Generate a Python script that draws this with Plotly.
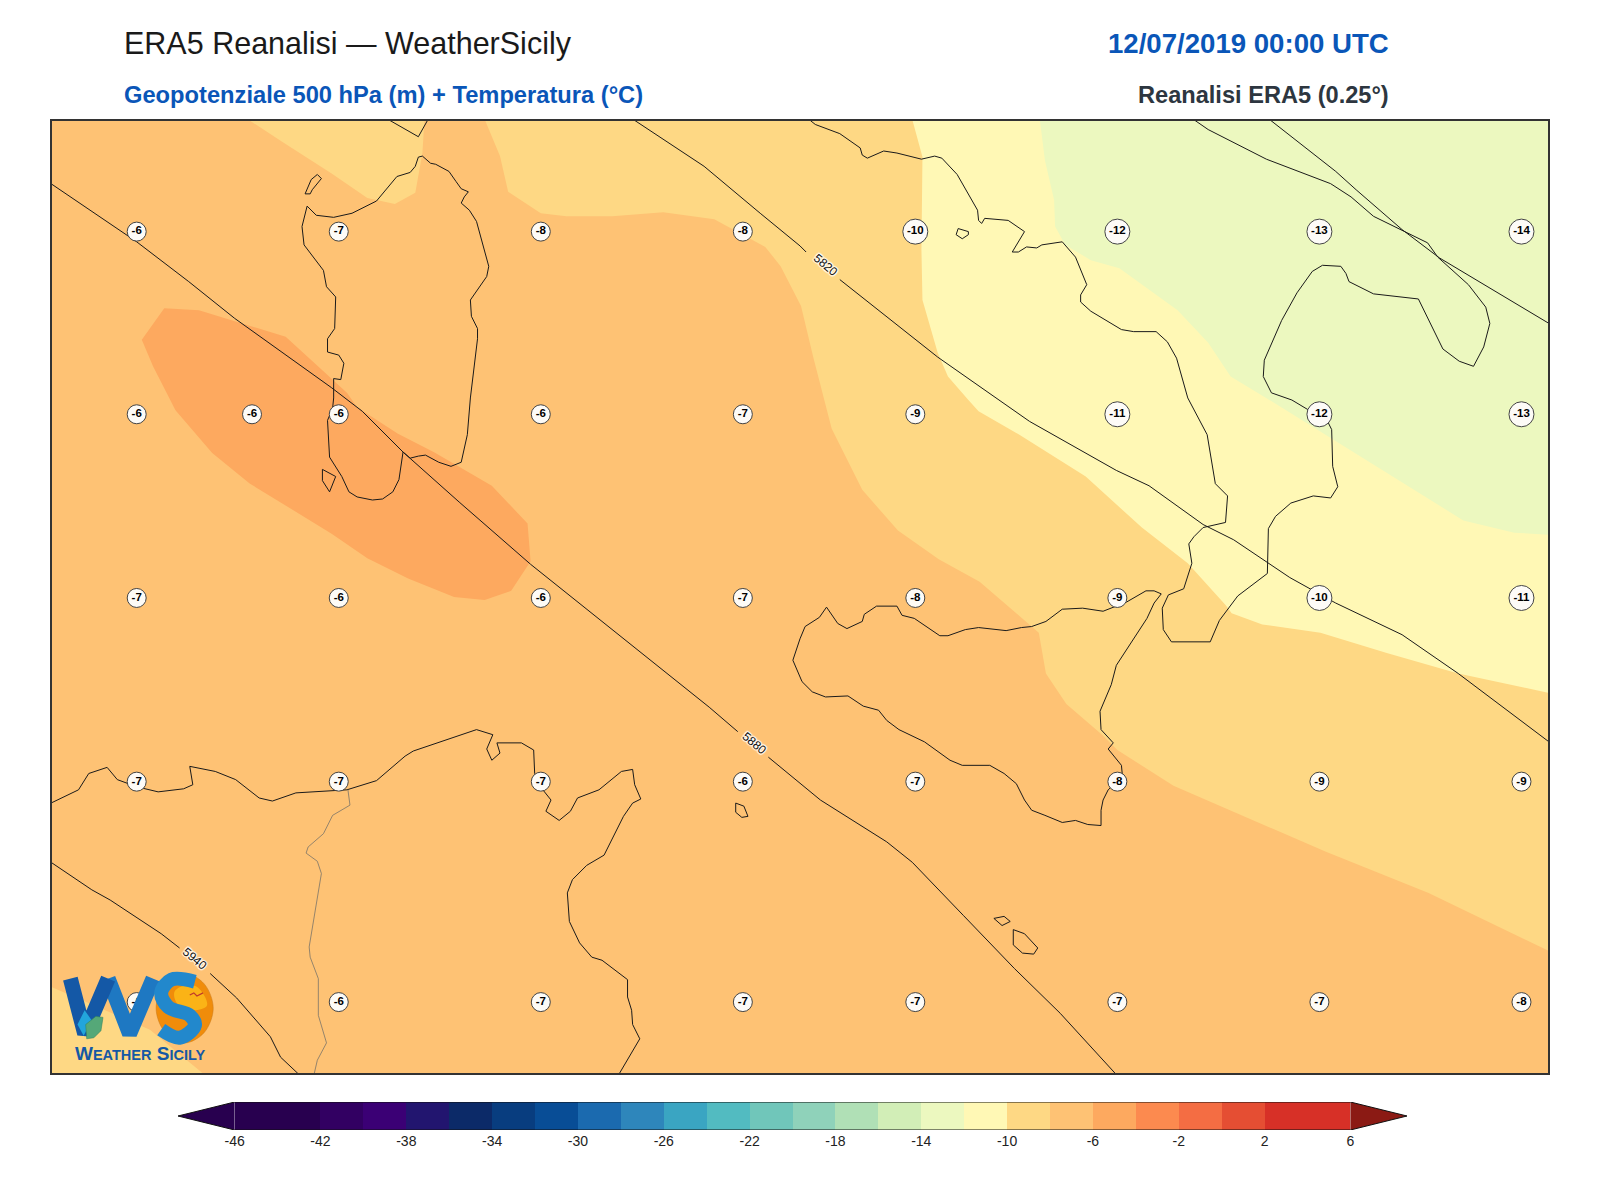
import plotly.graph_objects as go

# map units: x 50..1518 west to east, y 117..1052 north to south
hgt_5820 = [(622, 118), (690, 163), (745, 209), (784, 241), (790, 247), (None, None),
            (823, 274), (919, 350), (979, 392), (1009, 413), (1094, 461), (1126, 476), (1179, 514),
            (1209, 529), (1264, 566), (1309, 591), (1374, 622), (1429, 660), (1518, 727)]
hgt_5880 = [(50, 180), (134, 237), (185, 276), (230, 312), (325, 380), (355, 403), (395, 443), (450, 492),
            (520, 553), (600, 617), (695, 693), (723, 717), (None, None),
            (753, 742), (784, 767), (804, 784), (869, 825), (894, 845), (944, 897), (994, 949), (1039, 993),
            (1093, 1052)]
hgt_5940 = [(50, 845), (90, 872), (108, 882), (158, 915), (176, 929), (None, None),
            (206, 954), (232, 978), (265, 1016), (275, 1036), (292, 1052)]
hgt_5760 = [(1244, 117), (1309, 168), (1329, 186), (1374, 225), (1411, 253), (1518, 317)]
contour_labels = ['5820', '5880', '5940']
contour_label_x = [809, 739, 191]
contour_label_y = [260, 728, 940]

sardinia = [(414, 153), (422, 160), (427, 161), (440, 168), (447, 178), (452, 185), (459, 188), (455, 193),
            (452, 199), (460, 206), (467, 217), (479, 261), (477, 271), (461, 294), (462, 310), (468, 322),
            (468, 332), (461, 390), (458, 426), (452, 453), (442, 457), (430, 453), (417, 446), (410, 447),
            (402, 449), (395, 443), (391, 470), (385, 482), (375, 489), (365, 490), (350, 487), (342, 482),
            (335, 467), (323, 448), (321, 412), (326, 400), (327, 390), (327, 371), (334, 372), (337, 356),
            (332, 348), (321, 345), (321, 332), (328, 322), (329, 291), (320, 281), (317, 265), (298, 240),
            (296, 222), (301, 202), (310, 211), (327, 213), (345, 209), (369, 197), (389, 173), (402, 169),
            (407, 163), (410, 154), (414, 153)]
asinara = [(299, 190), (305, 176), (311, 171), (315, 175), (306, 186), (304, 190), (299, 190)]
san_pietro = [(316, 460), (329, 467), (323, 482), (316, 471), (316, 460)]
corsica = [(382, 118), (410, 134), (419, 118)]
ischia = [(939, 224), (949, 227), (949, 230), (943, 234), (937, 230), (939, 224)]
pantelleria = [(721, 787), (729, 790), (733, 800), (727, 801), (721, 796), (721, 787)]
gozo = [(974, 900), (984, 898), (990, 903), (982, 907), (974, 900)]
malta = [(993, 911), (1004, 915), (1017, 929), (1013, 935), (1002, 934), (993, 926), (993, 911)]
sicily = [(784, 626), (789, 614), (803, 605), (810, 595), (821, 611), (830, 616), (845, 609), (847, 602),
          (859, 594), (879, 594), (884, 603), (896, 606), (921, 623), (929, 623), (946, 617), (959, 615),
          (986, 618), (1001, 615), (1011, 614), (1025, 609), (1041, 597), (1061, 596), (1081, 599), (1089, 596),
          (1104, 590), (1123, 579), (1131, 579), (1138, 582), (1131, 591), (1124, 606), (1094, 652), (1089, 671),
          (1078, 697), (1079, 715), (1091, 728), (1086, 734), (1099, 750), (1100, 761), (1086, 774), (1081, 784),
          (1079, 794), (1079, 809), (1066, 808), (1054, 804), (1041, 806), (1024, 799), (1011, 794), (1004, 784),
          (996, 768), (984, 758), (970, 750), (943, 750), (931, 745), (906, 727), (881, 715), (869, 706),
          (861, 696), (846, 692), (831, 682), (809, 683), (796, 678), (786, 668), (777, 647), (784, 626)]
italy = [(794, 118), (799, 122), (823, 131), (843, 145), (845, 152), (850, 155), (866, 148), (879, 150),
         (903, 156), (916, 153), (923, 155), (938, 171), (958, 206), (959, 216), (962, 219), (965, 214),
         (988, 216), (1004, 227), (992, 247), (998, 247), (1006, 242), (1016, 243), (1021, 240), (1041, 237),
         (1054, 252), (1065, 279), (1059, 289), (1059, 296), (1069, 305), (1099, 323), (1111, 325), (1133, 325),
         (1144, 335), (1153, 351), (1164, 390), (1183, 426), (1191, 474), (1203, 486), (1201, 512), (1179, 517),
         (1170, 526), (1165, 533), (1168, 552), (1160, 577), (1145, 583), (1139, 596), (1140, 617), (1148, 629),
         (1186, 629), (1195, 608), (1213, 584), (1242, 562), (1243, 518), (1250, 506), (1265, 493), (1287, 486),
         (1304, 488), (1311, 477), (1306, 457), (1305, 421), (1301, 413), (1266, 392), (1246, 385), (1238, 369),
         (1239, 353), (1256, 314), (1271, 287), (1286, 266), (1296, 260), (1314, 261), (1319, 268), (1322, 276),
         (1346, 288), (1390, 293), (1414, 342), (1430, 354), (1444, 359), (1454, 340), (1460, 317), (1456, 301),
         (1439, 279), (1409, 252), (1399, 238), (1346, 212), (1324, 193), (1304, 180), (1241, 156), (1184, 127),
         (1171, 118)]
africa = [(50, 787), (77, 774), (87, 758), (105, 752), (115, 764), (134, 771), (155, 776), (180, 773), (189, 769),
          (186, 751), (211, 756), (231, 764), (254, 782), (267, 785), (290, 777), (340, 774), (369, 765), (397, 741),
          (405, 736), (467, 715), (483, 720), (477, 734), (482, 745), (490, 738), (487, 728), (511, 728), (523, 735),
          (524, 758), (532, 774), (540, 784), (535, 795), (548, 804), (559, 795), (566, 782), (587, 774), (609, 756),
          (620, 754), (622, 769), (628, 783), (620, 787), (611, 800), (592, 838), (575, 848), (561, 862), (556, 875),
          (558, 903), (568, 924), (580, 938), (590, 941), (615, 960), (615, 977), (619, 990), (620, 1004), (627, 1018),
          (607, 1052)]
border = [(341, 774), (343, 789), (326, 799), (317, 817), (302, 830), (300, 836), (311, 844), (315, 856), (303, 928),
          (304, 938), (312, 959), (312, 995), (320, 1022), (311, 1039), (308, 1052)]

# filled temperature bands
band_m8 = [(50, 117), (1518, 117), (1518, 1052), (50, 1052)]
band_m10_topleft = [(243, 117), (278, 140), (325, 170), (360, 194), (387, 200), (407, 189), (414, 150), (416, 117)]
band_m10_corner = [(50, 967), (147, 1009), (199, 1052), (50, 1052)]
band_m10_main = [(475, 117), (490, 153), (498, 188), (530, 209), (555, 212), (600, 212), (650, 208), (700, 215),
                 (750, 242), (765, 261), (785, 300), (797, 350), (815, 420), (845, 480), (880, 520), (920, 548),
                 (960, 570), (1000, 605), (1018, 620), (1025, 660), (1045, 690), (1080, 720), (1095, 735),
                 (1150, 770), (1230, 805), (1300, 835), (1400, 875), (1518, 932), (1518, 117)]
band_m12 = [(894, 117), (904, 154), (903, 245), (904, 294), (919, 346), (929, 369), (949, 392), (959, 403), (999, 426),
            (1064, 467), (1119, 517), (1164, 552), (1201, 593), (1207, 601), (1237, 612), (1294, 620), (1359, 640),
            (1429, 660), (1518, 679), (1518, 117)]
band_m14 = [(1019, 117), (1024, 157), (1033, 196), (1034, 222), (1044, 240), (1069, 255), (1097, 263), (1154, 304),
            (1184, 336), (1206, 369), (1244, 392), (1349, 457), (1434, 510), (1484, 522), (1518, 524), (1518, 117)]
band_m6 = [(161, 302), (195, 304), (280, 330), (340, 385), (350, 399), (390, 425), (425, 443), (482, 476), (517, 513),
           (520, 550), (501, 579), (475, 588), (445, 585), (400, 567), (360, 547), (325, 523), (245, 474), (208, 444),
           (172, 402), (150, 359), (139, 333), (161, 302)]

temp_x = [134, 332, 530, 728, 897, 1095, 1293, 1491,
          134, 247, 332, 530, 728, 897, 1095, 1293, 1491,
          134, 332, 530, 728, 897, 1095, 1293, 1491,
          134, 332, 530, 728, 897, 1095, 1293, 1491,
          134, 332, 530, 728, 897, 1095, 1293, 1491]
temp_y = [227] * 8 + [406] * 9 + [586] * 8 + [766] * 8 + [982] * 8
temp_val = [-6, -7, -8, -8, -10, -12, -13, -14,
            -6, -6, -6, -6, -7, -9, -11, -12, -13,
            -7, -6, -6, -7, -8, -9, -10, -11,
            -7, -7, -7, -6, -7, -8, -9, -9,
            -6, -6, -7, -7, -7, -7, -7, -8]

cbar_levels = list(range(-46, 6, 2))
cbar_colors = ['#28004f', '#28004f', '#320062', '#3b0075', '#22156f', '#0c2a68', '#083d7f', '#084d96',
               '#1b6aaf', '#2e86bb', '#3aa5c2', '#52bbc1', '#70c6ba', '#8fd2ba', '#b0e0b6', '#d2eeb7',
               '#ecf8bf', '#fff8b5', '#fed884', '#fec274', '#fda95f', '#fc8a4f', '#f46d43', '#e54e33',
               '#d73027', '#d73027']
cbar_ticks = list(range(-46, 7, 4))
cbar_ext = 2.64

# logo strokes
logo_sun = [(181, 954), (200, 964), (209, 988), (200, 1012), (181, 1022), (162, 1012), (153, 988), (162, 964), (181, 954)]
logo_sun_inner = [(171, 972), (180, 966), (193, 967), (203, 985), (190, 990), (174, 984), (171, 972)]
logo_w_left = [(69, 959), (83, 1013), (106, 959)]
logo_w_right = [(106, 959), (127, 1013), (150, 959)]
logo_s = [(191, 962), (168, 960), (158, 973), (165, 987), (186, 995), (191, 1005), (176, 1017), (158, 1009)]
logo_leaf = [(85, 1018), (84, 1004), (94, 996), (101, 997), (99, 1010), (92, 1017), (85, 1018)]
logo_drop = [(82, 1015), (76, 1004), (83, 990), (90, 1000), (82, 1015)]
logo_bird = [(186, 975), (190, 973), (193, 976), (199, 973)]


def xs(pts):
    return [p[0] for p in pts]


def ys(pts):
    return [p[1] for p in pts]


fig = go.Figure()


def add_band(pts, color):
    fig.add_trace(go.Scatter(x=xs(pts), y=ys(pts), mode='lines', fill='toself', fillcolor=color,
                             line=dict(width=0, color=color), hoverinfo='skip', showlegend=False))


def add_line(pts, color='#1a1a1a', width=1.0):
    fig.add_trace(go.Scatter(x=xs(pts), y=ys(pts), mode='lines', line=dict(color=color, width=width),
                             hoverinfo='skip', showlegend=False))


add_band(band_m8, '#fec274')
add_band(band_m10_topleft, '#fed884')
add_band(band_m10_corner, '#fed884')
add_band(band_m10_main, '#fed884')
add_band(band_m12, '#fff8b5')
add_band(band_m14, '#ecf8bf')
add_band(band_m6, '#fda95f')

for coast in [sardinia, asinara, san_pietro, corsica, ischia, pantelleria, gozo, malta, sicily, italy, africa]:
    add_line(coast)
add_line(border, color='#7a7468', width=0.8)
for contour in [hgt_5760, hgt_5820, hgt_5880, hgt_5940]:
    add_line(contour, color='#1a1a1a', width=1.0)

fig.add_trace(go.Scatter(x=temp_x, y=temp_y, mode='markers+text', text=[str(v) for v in temp_val],
                         textposition='middle center',
                         textfont=dict(family='Liberation Sans', size=11.5, color='black', weight='bold'),
                         marker=dict(size=[25 if v <= -10 else 19 for v in temp_val], color='#fdfbf7', opacity=1,
                                     line=dict(color='#444444', width=1)),
                         hoverinfo='skip', showlegend=False))

# logo
fig.add_trace(go.Scatter(x=xs(logo_sun), y=ys(logo_sun), mode='lines', fill='toself', fillcolor='#f08c0a',
                         line=dict(shape='spline', width=0.5, color='#c8781a'), hoverinfo='skip', showlegend=False))
fig.add_trace(go.Scatter(x=xs(logo_sun_inner), y=ys(logo_sun_inner), mode='lines', fill='toself', fillcolor='#fbb316',
                         line=dict(shape='spline', width=0), hoverinfo='skip', showlegend=False))
fig.add_trace(go.Scatter(x=xs(logo_w_right), y=ys(logo_w_right), mode='lines', line=dict(color='#1e78c2', width=15),
                         hoverinfo='skip', showlegend=False))
fig.add_trace(go.Scatter(x=xs(logo_w_left), y=ys(logo_w_left), mode='lines', line=dict(color='#1458a6', width=15),
                         hoverinfo='skip', showlegend=False))
fig.add_trace(go.Scatter(x=xs(logo_s), y=ys(logo_s), mode='lines', line=dict(color='#2288cc', width=14, shape='spline'),
                         hoverinfo='skip', showlegend=False))
fig.add_trace(go.Scatter(x=xs(logo_drop), y=ys(logo_drop), mode='lines', fill='toself', fillcolor='#22a5dc',
                         line=dict(width=0), hoverinfo='skip', showlegend=False))
fig.add_trace(go.Scatter(x=xs(logo_leaf), y=ys(logo_leaf), mode='lines', fill='toself', fillcolor='#55a878',
                         line=dict(width=0.5, color='#2f7f5a'), hoverinfo='skip', showlegend=False))
add_line(logo_bird, color='#c0392b', width=1.2)

# colorbar
fig.add_trace(go.Bar(x=[v + 1 for v in cbar_levels], y=[1] * len(cbar_levels), width=2, marker=dict(color=cbar_colors, line=dict(width=0)),
                     xaxis='x2', yaxis='y2', hoverinfo='skip', showlegend=False))
fig.add_trace(go.Scatter(x=[-46, -46 - cbar_ext, -46, -46], y=[1, 0.5, 0, 1], mode='lines', fill='toself', fillcolor='#28004f',
                         line=dict(width=0), xaxis='x2', yaxis='y2', hoverinfo='skip', showlegend=False))
fig.add_trace(go.Scatter(x=[6, 6 + cbar_ext, 6, 6], y=[1, 0.5, 0, 1], mode='lines', fill='toself', fillcolor='#8b1a14',
                         line=dict(width=0), xaxis='x2', yaxis='y2', hoverinfo='skip', showlegend=False))
fig.add_trace(go.Scatter(x=[-46, 6, 6 + cbar_ext, 6, -46, -46 - cbar_ext, -46], y=[1, 1, 0.5, 0, 0, 0.5, 1], mode='lines',
                         line=dict(color='#111111', width=1), xaxis='x2', yaxis='y2', hoverinfo='skip', showlegend=False))

halo = '1px 1px 1px #fff, -1px -1px 1px #fff, 1px -1px 1px #fff, -1px 1px 1px #fff'
annotations = []
for text, x, y in zip(contour_labels, contour_label_x, contour_label_y):
    annotations.append(dict(x=x, y=y, xref='x', yref='y', text=text, showarrow=False, textangle=40,
                            font=dict(family='Liberation Sans', size=12, color='#111111', shadow=halo)))
annotations.append(dict(x=137, y=1032, xref='x', yref='y', showarrow=False,
                        text='W<span style="font-size:14.5px">EATHER</span> S<span style="font-size:14.5px">ICILY</span>',
                        font=dict(family='Liberation Sans', size=19, color='#1558a5', weight='bold')))
title_font = 'Liberation Sans'
annotations += [
    dict(x=122 / 1600, y=1 - 43 / 1200, xref='paper', yref='paper', xanchor='left', yanchor='middle', showarrow=False,
         text='ERA5 Reanalisi — WeatherSicily', font=dict(family=title_font, size=30.5, color='#1a1a1a')),
    dict(x=122 / 1600, y=1 - 95 / 1200, xref='paper', yref='paper', xanchor='left', yanchor='middle', showarrow=False,
         text='Geopotenziale 500 hPa (m) + Temperatura (°C)',
         font=dict(family=title_font, size=23.7, color='#0a56b8', weight='bold')),
    dict(x=1391 / 1600, y=1 - 44 / 1200, xref='paper', yref='paper', xanchor='right', yanchor='middle', showarrow=False,
         text='12/07/2019 00:00 UTC', font=dict(family=title_font, size=27.6, color='#0a56b8', weight='bold')),
    dict(x=1391 / 1600, y=1 - 95 / 1200, xref='paper', yref='paper', xanchor='right', yanchor='middle', showarrow=False,
         text='Reanalisi ERA5 (0.25°)', font=dict(family=title_font, size=23.6, color='#2d3640', weight='bold')),
]

fig.update_layout(
    width=1600, height=1200, margin=dict(l=0, r=0, t=0, b=0), showlegend=False,
    paper_bgcolor='white', plot_bgcolor='white', barmode='overlay', bargap=0,
    annotations=annotations,
    xaxis=dict(domain=[52 / 1600, 1548 / 1600], range=[51, 1517], showgrid=False, zeroline=False, showticklabels=False, ticks='',
               showline=True, mirror=True, linecolor='#333333', linewidth=2),
    yaxis=dict(domain=[1 - 1073 / 1200, 1 - 121 / 1200], range=[1051.5, 118.6], showgrid=False, zeroline=False, showticklabels=False,
               ticks='', showline=True, mirror=True, linecolor='#333333', linewidth=2),
    xaxis2=dict(domain=[178 / 1600, 1407 / 1600], range=[-46 - cbar_ext, 6 + cbar_ext], anchor='y2', tickmode='array', tickvals=cbar_ticks,
                ticktext=[str(v) for v in cbar_ticks], ticks='', ticklabelstandoff=1, showgrid=False, zeroline=False,
                tickfont=dict(family='Liberation Sans', size=14, color='#222222')),
    yaxis2=dict(domain=[1 - 1130 / 1200, 1 - 1102 / 1200], range=[0, 1], anchor='x2', showgrid=False, zeroline=False,
                showticklabels=False, ticks=''),
)

fig.write_html('out.html', post_script="document.body.style.margin='0';", config=dict(displayModeBar=False))
